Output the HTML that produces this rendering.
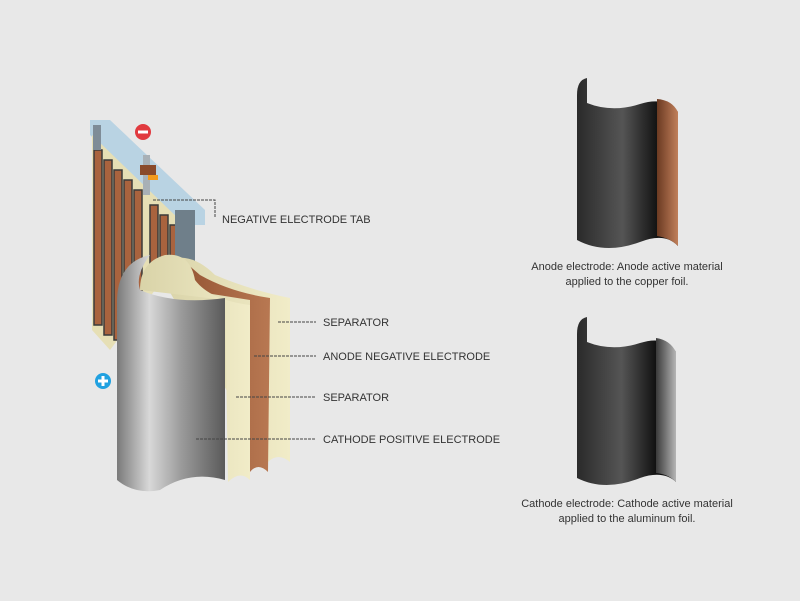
<!DOCTYPE html>
<html><head><style>
body{margin:0;background:#e8e8e8;}
svg{display:block;font-family:"Liberation Sans",sans-serif;}
</style></head><body>
<svg width="800" height="601" viewBox="0 0 800 601">
<defs>
<linearGradient id="blk" x1="0" x2="1"><stop offset="0" stop-color="#2a2a2a"/><stop offset="0.45" stop-color="#555"/><stop offset="0.8" stop-color="#111"/><stop offset="1" stop-color="#0a0a0a"/></linearGradient>
<linearGradient id="cu" x1="0" x2="1"><stop offset="0" stop-color="#6b3a22"/><stop offset="1" stop-color="#c07f5a"/></linearGradient>
<linearGradient id="al" x1="0" x2="1"><stop offset="0" stop-color="#3a3a3a"/><stop offset="1" stop-color="#b5b5b5"/></linearGradient>
<linearGradient id="gr" x1="0" x2="1"><stop offset="0" stop-color="#7a7a7a"/><stop offset="0.3" stop-color="#d8d8d8"/><stop offset="0.6" stop-color="#9a9a9a"/><stop offset="1" stop-color="#5a5a5a"/></linearGradient>
<linearGradient id="cr" x1="0" x2="1"><stop offset="0" stop-color="#d9d3a8"/><stop offset="1" stop-color="#f1ecc8"/></linearGradient>
<linearGradient id="cu2" x1="0" x2="1"><stop offset="0" stop-color="#8a4a2a"/><stop offset="1" stop-color="#b87852"/></linearGradient>
</defs>
<polygon points="90,120 110,120 205,210 205,225 185,225 90,135" fill="#b9d3e3"/>
<polygon points="92,135 185,225 185,250 110,350 92,330" fill="#e6dfb5"/>
<g fill="#a9633e" stroke="#3a3a3a" stroke-width="1.5">
<rect x="94" y="150" width="8" height="175"/><rect x="104" y="160" width="8" height="175"/>
<rect x="114" y="170" width="8" height="170"/><rect x="124" y="180" width="8" height="160"/>
<rect x="134" y="190" width="8" height="130"/><rect x="150" y="205" width="8" height="60"/>
<rect x="160" y="215" width="8" height="50"/><rect x="170" y="225" width="8" height="40"/>
</g>
<rect x="93" y="125" width="8" height="25" fill="#7f8c97"/>
<rect x="143" y="155" width="7" height="40" fill="#a8b0b6"/>
<rect x="140" y="165" width="16" height="10" fill="#8a4a2a"/>
<rect x="148" y="175" width="10" height="5" fill="#f39a1c"/>
<rect x="175" y="210" width="20" height="75" fill="#6f7f8a"/>
<circle cx="143" cy="132" r="8" fill="#e13a3f"/><rect x="138" y="130.5" width="10" height="3" fill="#fff"/>
<circle cx="103" cy="381" r="8" fill="#21a1e0"/><rect x="98" y="379.5" width="10" height="3" fill="#fff"/><rect x="101.5" y="376" width="3" height="10" fill="#fff"/>
<path d="M160,275 Q165,255 185,258 Q200,260 215,275 Q250,290 290,298 L290,462 Q278,452 268,462 Z" fill="url(#cr)"/>
<path d="M155,285 Q160,262 185,262 L200,275 Q230,292 270,298 L268,472 Q258,462 250,472 L250,300 Z" fill="url(#cu2)"/>
<path d="M140,290 Q140,262 165,255 Q190,252 195,280 Q210,300 250,305 L250,480 Q240,470 228,482 L225,300 Z" fill="url(#cr)"/>
<path d="M117,300 Q118,262 150,255 Q135,275 140,290 Q175,305 225,298 L225,480 Q190,470 160,490 Q135,495 117,480 Z" fill="url(#gr)"/>
<path d="M577,95 Q577,80 587,78 L587,103 Q612,113 640,104 Q665,96 678,112 L678,246 Q665,232 640,242 Q605,255 577,240 Z" fill="url(#blk)"/>
<path d="M657,99 Q672,100 678,112 L678,246 Q670,238 657,236 Z" fill="url(#cu)"/>
<path d="M577,334 Q577,319 587,317 L587,342 Q612,352 640,343 Q665,335 676,352 L676,482 Q663,470 640,478 Q605,492 577,478 Z" fill="url(#blk)"/>
<path d="M656,338 Q670,340 676,352 L676,482 Q668,474 656,473 Z" fill="url(#al)"/>
<g stroke="#444" stroke-width="1" stroke-dasharray="3,1" fill="none">
<path d="M153,200 H215 V217"/>
<path d="M278,322 H316"/><path d="M254,356 H316"/><path d="M236,397 H316"/><path d="M196,439 H316"/>
</g>
<g font-size="11" fill="#333">
<text x="222" y="223">NEGATIVE ELECTRODE TAB</text>
<text x="323" y="326">SEPARATOR</text>
<text x="323" y="360">ANODE NEGATIVE ELECTRODE</text>
<text x="323" y="401">SEPARATOR</text>
<text x="323" y="443">CATHODE POSITIVE ELECTRODE</text>
<g text-anchor="middle">
<text x="627" y="270">Anode electrode: Anode active material</text>
<text x="627" y="285">applied to the copper foil.</text>
<text x="627" y="507">Cathode electrode: Cathode active material</text>
<text x="627" y="522">applied to the aluminum foil.</text>
</g></g>
</svg>
</body></html>
